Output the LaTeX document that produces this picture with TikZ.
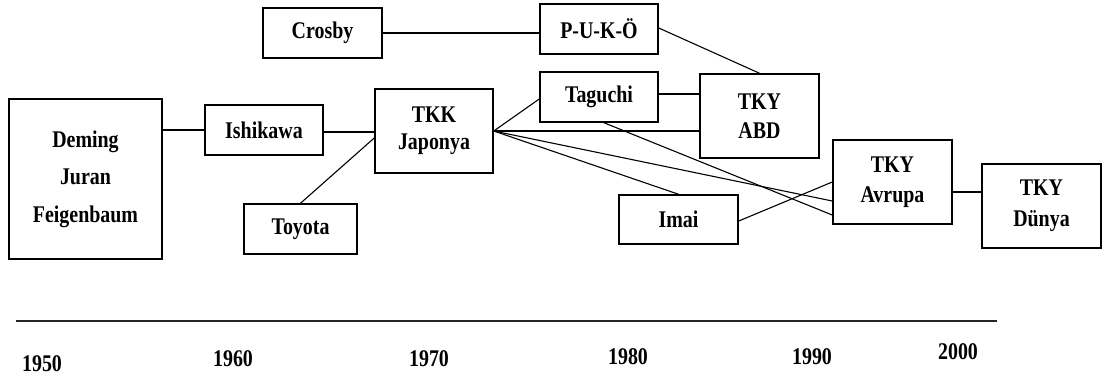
\documentclass[tikz,border=0pt]{standalone}
\usepackage{fontspec}
\setmainfont{Liberation Serif}
\usetikzlibrary{calc}
% slightly taller lettering
\newcommand\tallt[1]{\scalebox{1}[1.2]{#1}}
\begin{document}
\begin{tikzpicture}[x=1bp,y=-1bp,
  lbl/.style={font=\fontsize{20}{24}\selectfont\bfseries},
  box/.style={draw, line width=1.5bp, inner sep=0pt, align=center, lbl},
  link/.style={draw, line width=1.1bp},
  year/.style={lbl, inner sep=0pt}]
\useasboundingbox[fill=white] (0,0) rectangle (1103,379);

% boxes
\node[box, minimum width=119bp, minimum height=50bp] (crosby) at (322.5,33) {\tallt{Crosby}};
\node[box, minimum width=118bp, minimum height=50bp] (puko) at (599,29) {\tallt{P-U-K-Ö}};
\node[box, minimum width=153bp, minimum height=160bp] (deming) at (85.5,179)
  {\tallt{Deming}\\[13.5pt]\tallt{Juran}\\[13.5pt]\tallt{Feigenbaum}};
\node[box, minimum width=118bp, minimum height=50bp] (ishikawa) at (264,130) {\tallt{Ishikawa}};
\node[box, minimum width=118bp, minimum height=84bp] (tkk) at (434,131) {\tallt{TKK}\\[3pt]\tallt{Japonya}};
\node[box, minimum width=113bp, minimum height=50bp] (toyota) at (300.5,229) {\tallt{Toyota}};
\node[box, minimum width=118bp, minimum height=50bp] (taguchi) at (599,97) {\tallt{Taguchi}};
\node[box, minimum width=119bp, minimum height=84bp] (abd) at (759.5,116) {\tallt{TKY}\\[5pt]\tallt{ABD}};
\node[box, minimum width=119bp, minimum height=49bp] (imai) at (678.5,219.5) {\tallt{Imai}};
\node[box, minimum width=119bp, minimum height=84bp] (avrupa) at (892.5,182) {\tallt{TKY}\\[6pt]\tallt{Avrupa}};
\node[box, minimum width=119bp, minimum height=84bp] (dunya) at (1041.5,206) {\tallt{TKY}\\[7pt]\tallt{Dünya}};

% connectors
\draw[link] (crosby.east) -- (crosby.east -| puko.west);
\draw[link] (ishikawa.west) -- (ishikawa.west -| deming.east);
\draw[link] ([yshift=-2bp]ishikawa.east) -- ([yshift=-2bp]ishikawa.east -| tkk.west);
\draw[link] (toyota.north) -- ([yshift=-7bp]tkk.west);
\draw[link] (tkk.east) -- ([yshift=-2bp]taguchi.west);
\draw[link] (tkk.east) -- (tkk.east -| abd.west);
\draw[link] (tkk.east) -- ([yshift=-19bp]avrupa.west);
\draw[link] (tkk.east) -- (imai.north);
\draw[link] ([yshift=3bp]taguchi.east) -- ([yshift=3bp]taguchi.east -| abd.west);
\draw[link] ([yshift=1bp]puko.east) -- (abd.north);
\draw[link] ([xshift=5bp]taguchi.south) -- ([yshift=-33bp]avrupa.west);
\draw[link] ([yshift=-1.5bp]imai.east) -- (avrupa.west);
\draw[link] ([yshift=-10bp]avrupa.east) -- ([yshift=-10bp]avrupa.east -| dunya.west);

% time axis
\coordinate (axisL) at (16,321);
\coordinate (axisR) at (997,321);
\draw[line width=1.6bp, black!85] (axisL) -- (axisR);
\node[year] (y1950) at (42,364) {\tallt{1950}};
\node[year] (y1960) at (233,359) {\tallt{1960}};
\node[year] (y1970) at (429,359) {\tallt{1970}};
\node[year] (y1980) at (628,357) {\tallt{1980}};
\node[year] (y1990) at (812,357) {\tallt{1990}};
\node[year] (y2000) at (958,352) {\tallt{2000}};
\end{tikzpicture}
\end{document}
